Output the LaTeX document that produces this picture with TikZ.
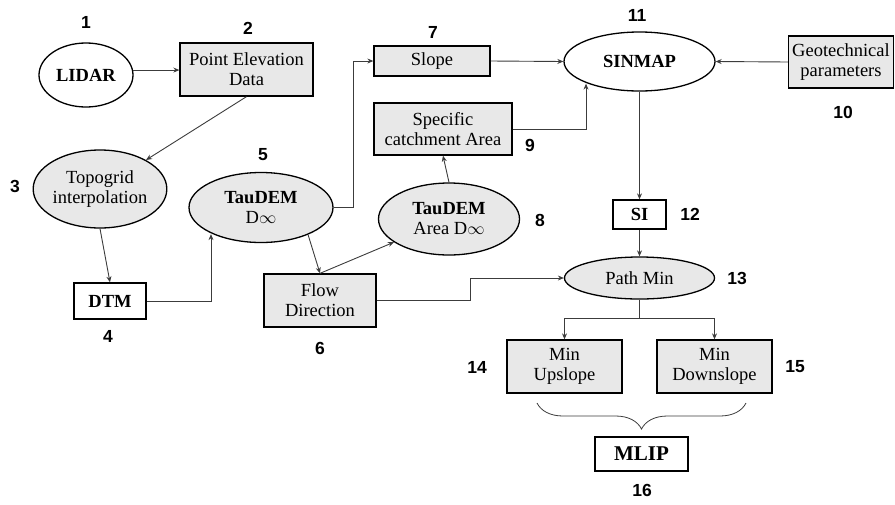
\documentclass[tikz,border=0pt]{standalone}
\usepackage{fontspec}
\setmainfont{Liberation Serif}
\newfontfamily\numfont{Liberation Sans}
\usetikzlibrary{shapes.geometric,arrows.meta,decorations.pathreplacing,calc}
\definecolor{boxgray}{HTML}{E8E8E8}
\definecolor{linegray}{HTML}{3C3C3C}
\begin{document}
\begin{tikzpicture}[x=1pt,y=-1pt,
  txt/.style={font=\fontsize{18.5}{20}\selectfont, align=center, inner sep=0pt},
  gbox/.style={txt, draw=black, line width=1.3pt, fill=boxgray, rectangle},
  wbox/.style={gbox, fill=white},
  gell/.style={txt, draw=black, line width=1.3pt, fill=boxgray, ellipse},
  well/.style={gell, fill=white},
  num/.style={font=\numfont\bfseries\fontsize{17.5}{17.5}\selectfont, inner sep=0pt},
  arr/.style={draw=linegray, line width=0.9pt, -{Stealth[length=6pt,width=5pt]}},
  ln/.style={draw=linegray, line width=0.9pt}]
\useasboundingbox (0,0) rectangle (895,504);

% nodes
\node[well, minimum width=94pt, minimum height=64pt] (lidar) at (86,75) {\textbf{LIDAR}};
\node[gbox, minimum width=133pt, minimum height=53pt] (ped) at (246.5,69.5) {Point Elevation\\Data};
\node[gell, minimum width=130pt, minimum height=78pt] (topo) at (100,189) {Topogrid\\interpolation};
\node[wbox, minimum width=72pt, minimum height=36pt] (dtm) at (110,301) {\textbf{DTM}};
\node[gell, minimum width=144pt, minimum height=70pt] (tau) at (261,207.5) {\textbf{TauDEM}\\D$\infty$};
\node[gbox, minimum width=112pt, minimum height=53pt] (flow) at (320,300.5) {Flow\\Direction};
\node[gbox, minimum width=116pt, minimum height=30pt] (slope) at (432,61) {Slope};
\node[gbox, minimum width=138pt, minimum height=52pt] (spec) at (443,129) {Specific\\catchment Area};
\node[gell, minimum width=141pt, minimum height=72pt] (area) at (449,219) {\textbf{TauDEM}\\Area D$\infty$};
\node[well, minimum width=151pt, minimum height=59pt] (sinmap) at (639.5,61.5) {\textbf{SINMAP}};
\node[gbox, minimum width=105pt, minimum height=52pt] (geo) at (841,62) {Geotechnical\\parameters};
\node[wbox, minimum width=53pt, minimum height=29pt] (si) at (639.5,214.5) {\textbf{SI}};
\node[gell, minimum width=150pt, minimum height=42pt] (pathmin) at (639.5,278) {Path Min};
\node[gbox, minimum width=115pt, minimum height=53pt] (up) at (564.5,366.5) {Min\\Upslope};
\node[gbox, minimum width=115pt, minimum height=53pt] (down) at (714.5,366.5) {Min\\Downslope};
\node[wbox, minimum width=93pt, minimum height=34pt, font=\fontsize{21}{21}\selectfont] (mlip) at (641.5,454) {\textbf{MLIP}};

% number labels
\node[num] (n1) at (86,22) {1};
\node[num] (n2) at (248,28) {2};
\node[num] (n3) at (15,186) {3};
\node[num] (n4) at (108,336) {4};
\node[num] (n5) at (263,155) {5};
\node[num] (n6) at (320,348) {6};
\node[num] (n7) at (433,32) {7};
\node[num] (n8) at (540,220) {8};
\node[num] (n9) at (530,145) {9};
\node[num] (n10) at (843,112) {10};
\node[num] (n11) at (637,15) {11};
\node[num] (n12) at (690,214) {12};
\node[num] (n13) at (737,278) {13};
\node[num] (n14) at (477,367) {14};
\node[num] (n15) at (795,367) {15};
\node[num] (n16) at (642,490) {16};

% connectors
\draw[arr] (lidar.6) -- (lidar.6 -| ped.west);
\draw[arr] (ped.south) -- (topo);
\draw[arr] (topo.south) -- (dtm.north);
\draw[arr] (dtm.east) -| ([xshift=-50pt,yshift=9pt]tau.south);
\draw[arr] (tau.-30) -- (flow.north);
\draw[arr] (tau.east) -- ++(20,0) |- (slope.west);
\draw[arr] (flow.north) -- (area);
\draw[arr] (area.north) -- (spec.south);
\draw[arr] (spec.east) -| ([xshift=-53.5pt,yshift=8pt]sinmap.south);
\draw[arr] (slope.east) -- (sinmap.west);
\draw[arr] (geo.west) -- (sinmap.east);
\draw[arr] (sinmap.south) -- (si.north);
\draw[arr] (si.south) -- (pathmin.north);
\draw[arr] (flow.east) -- ++(94,0) |- (pathmin.west);
\draw[ln] (pathmin.south) -- ++(0,19) coordinate (split);
\draw[arr] (split) -| (up.north);
\draw[arr] (split) -| (down.north);

% brace
\coordinate (br) at (746,403);
\coordinate (bl) at (537,403);
\draw[ln, line width=0.8pt, decorate, decoration={brace, amplitude=26pt}] (br) -- (bl);
\end{tikzpicture}
\end{document}
